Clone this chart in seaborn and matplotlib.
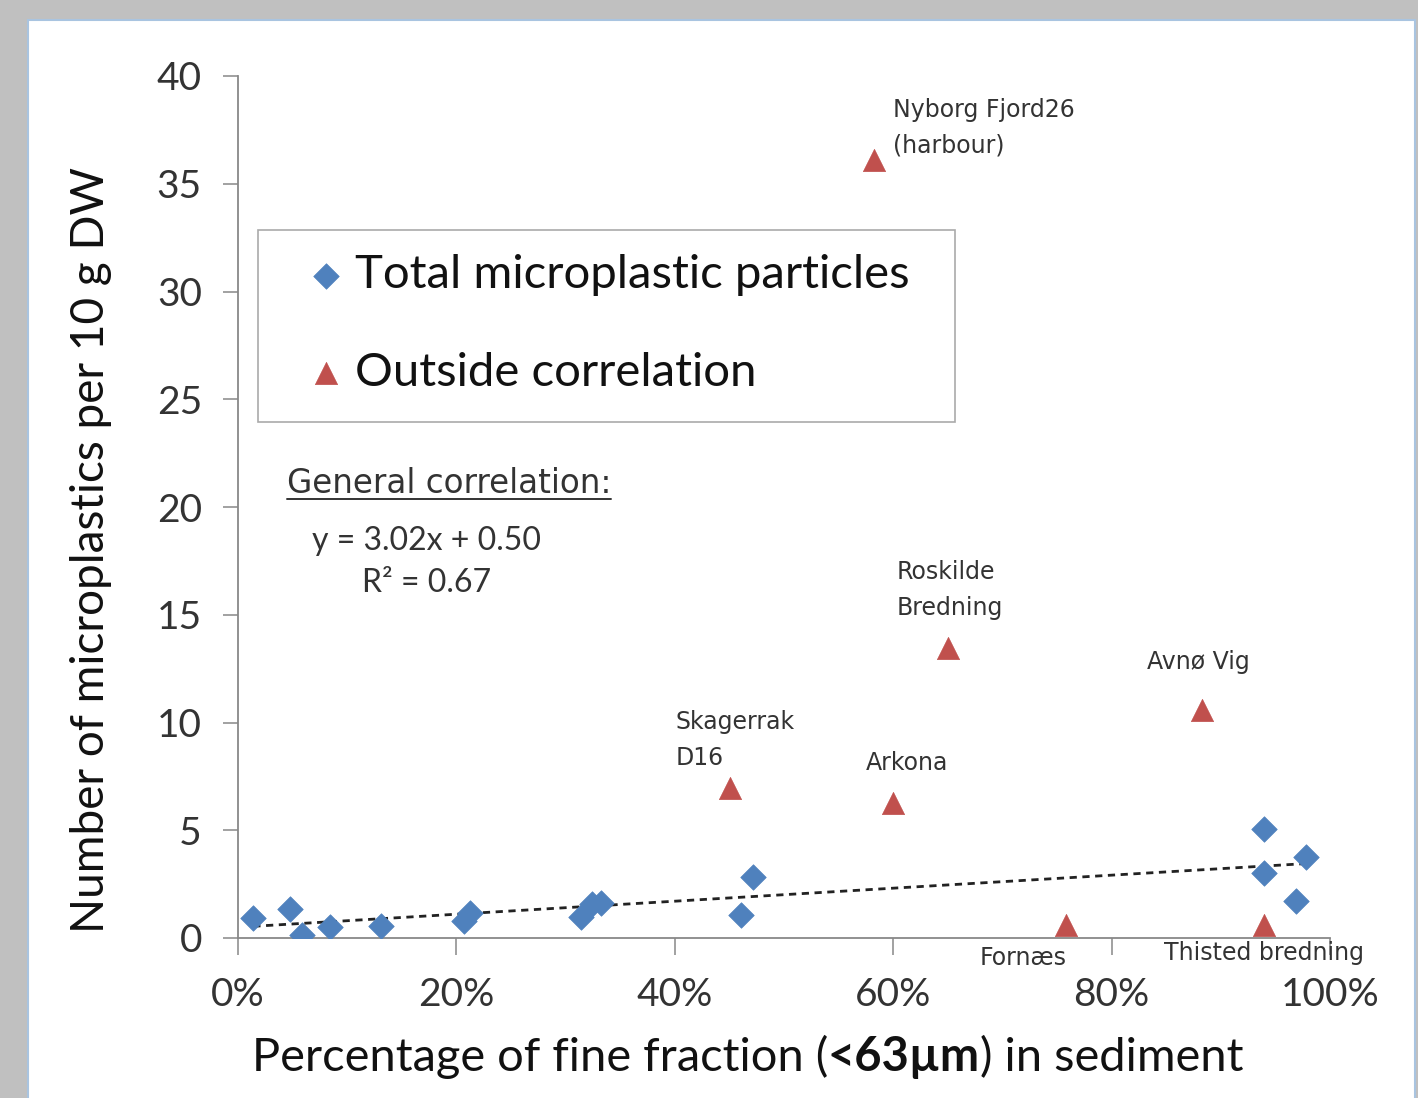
import numpy as np
import pandas as pd
import matplotlib.pyplot as plt
import matplotlib.ticker as mticker
from matplotlib.patches import Rectangle
from matplotlib.lines import Line2D
from matplotlib.offsetbox import TextArea, HPacker, AnchoredOffsetbox
import seaborn as sns

# ---- data ----
# total microplastic particles (fraction of fine sediment, particles per 10 g DW)
total_x = [0.014, 0.048, 0.059, 0.084, 0.131, 0.207, 0.212, 0.314, 0.324, 0.332,
           0.461, 0.472, 0.940, 0.940, 0.969, 0.978]
total_y = [0.93, 1.35, 0.16, 0.50, 0.56, 0.78, 1.15, 0.98, 1.60, 1.62,
           1.07, 2.83, 5.05, 3.02, 1.72, 3.76]

# stations outside the correlation
outside_names = ["Nyborg Fjord26\n(harbour)", "Roskilde\nBredning", "Avnø Vig",
                 "Skagerrak\nD16", "Arkona", "Fornæs", "Thisted bredning"]
outside_x = [0.582, 0.650, 0.883, 0.451, 0.600, 0.758, 0.940]
outside_y = [36.1, 13.45, 10.6, 6.96, 6.26, 0.60, 0.60]

# label anchor (left edge, vertical centre) for each station name
label_x = [0.600, 0.603, 0.832, 0.401, 0.575, 0.679, 0.848]
label_y = [37.6, 16.15, 12.8, 9.19, 8.12, -0.93, -0.70]

slope, intercept, r2 = 3.02, 0.50, 0.67

x_ticks = [0, 0.2, 0.4, 0.6, 0.8, 1.0]
y_ticks = [0, 5, 10, 15, 20, 25, 30, 35, 40]

blue = "#4F81BD"
red = "#C0504D"
axis_grey = "#888888"

df_total = pd.DataFrame({"x": total_x, "y": total_y})
df_out = pd.DataFrame({"x": outside_x, "y": outside_y})
trend_x = np.array([min(total_x), max(total_x)])
df_trend = pd.DataFrame({"x": trend_x, "y": slope * trend_x + intercept})

sns.set_theme(style="white")
plt.rcParams["font.family"] = ["Lato", "DejaVu Sans"]

fig = plt.figure(figsize=(14.18, 10.98), dpi=100)
fig.patch.set_facecolor("#c0c0c0")
panel = Rectangle((28 / 1418, -0.01), (1415 - 28) / 1418, 1.01 - 20 / 1098,
                  transform=fig.transFigure, facecolor="white",
                  edgecolor="#a9c4e0", linewidth=1.5, zorder=-10)
fig.add_artist(panel)

ax = fig.add_axes([238 / 1418, 1 - 938 / 1098, 1092 / 1418, 862 / 1098])
ax.set_facecolor("none")

sns.lineplot(data=df_trend, x="x", y="y", ax=ax, color="#222222",
             linewidth=2.0, linestyle=(0, (2.6, 2.0)), zorder=2)
sns.scatterplot(data=df_total, x="x", y="y", ax=ax, marker="D", s=13 ** 2,
                color=blue, edgecolor=blue, linewidth=0.5, zorder=3,
                label="Total microplastic particles")
sns.scatterplot(data=df_out, x="x", y="y", ax=ax, marker="^", s=16 ** 2,
                color=red, edgecolor=red, linewidth=0.5, zorder=3,
                label="Outside correlation")

ax.set_xlim(0, 1.0)
ax.set_ylim(0, 40)
ax.set_xticks(x_ticks)
ax.set_yticks(y_ticks)
ax.xaxis.set_major_formatter(mticker.PercentFormatter(xmax=1.0, decimals=0))

for side in ["top", "right"]:
    ax.spines[side].set_visible(False)
for side in ["left", "bottom"]:
    ax.spines[side].set_color(axis_grey)
    ax.spines[side].set_linewidth(1.3)

ax.tick_params(axis="y", direction="out", length=11, width=1.1, color=axis_grey,
               labelsize=28, pad=15, labelcolor="#333333", left=True)
ax.tick_params(axis="x", direction="out", length=12, width=1.1, color=axis_grey,
               labelsize=28, pad=16, labelcolor="#333333", bottom=True)

# x label with a bold middle part
ax.set_xlabel("")
xl_parts = [("Percentage of fine fraction (", "normal"), ("<63µm", "bold"),
            (") in sediment", "normal")]
xl_box = HPacker(children=[TextArea(t, textprops=dict(size=33.8, weight=w, color="#111111"))
                           for t, w in xl_parts], align="baseline", pad=0, sep=0)
fig.add_artist(AnchoredOffsetbox(loc="center", child=xl_box, pad=0, borderpad=0,
                                 frameon=False,
                                 bbox_to_anchor=(747.5 / 1418, 1 - 1057 / 1098),
                                 bbox_transform=fig.transFigure))

ax.set_ylabel("Number of microplastics per 10 g DW", fontsize=33, color="#111111")
ax.yaxis.set_label_coords(-0.135, 0.450)
ax.yaxis.label.set_va("center")

# station labels
for name, lx, ly in zip(outside_names, label_x, label_y):
    ax.text(lx, ly, name, fontsize=17, color="#333333", ha="left", va="center",
            linespacing=1.6, clip_on=False, family="DejaVu Sans")

# correlation text
gc = ax.text(0.0449, 21.11, "General correlation:", fontsize=23.5, color="#333333",
             ha="left", va="center", family="DejaVu Sans")
ax.text(0.0678, 18.42, f"y = {slope:.2f}x + {intercept:.2f}", fontsize=23,
        color="#333333", ha="left", va="center")
ax.text(0.1136, 16.47, f"R² = {r2:.2f}", fontsize=23, color="#333333",
        ha="left", va="center")

# legend: text rows without frame, box drawn separately to match spacing
leg = ax.legend(loc="upper left", bbox_to_anchor=(0.0614, 0.793), borderaxespad=0,
                fontsize=34, frameon=False, borderpad=0,
                handlelength=0.9, handletextpad=0.15, labelspacing=1.17)
for t in leg.get_texts():
    t.set_color("#111111")
ax.add_patch(Rectangle((0.0183, 0.599), 0.6383, 0.222, transform=ax.transAxes,
                       facecolor="none", edgecolor="#aaaaaa", linewidth=1.2,
                       zorder=4))

# underline under "General correlation:"
fig.canvas.draw()
bb = gc.get_window_extent()
inv = fig.transFigure.inverted()
(x0, y0), (x1, _) = inv.transform([(bb.x0, bb.y0 + 1), (bb.x1, bb.y0)])
fig.add_artist(Line2D([x0, x1], [y0, y0], transform=fig.transFigure,
                      color="#333333", linewidth=1.4))

fig.savefig("out.png", dpi=100, facecolor=fig.get_facecolor())
